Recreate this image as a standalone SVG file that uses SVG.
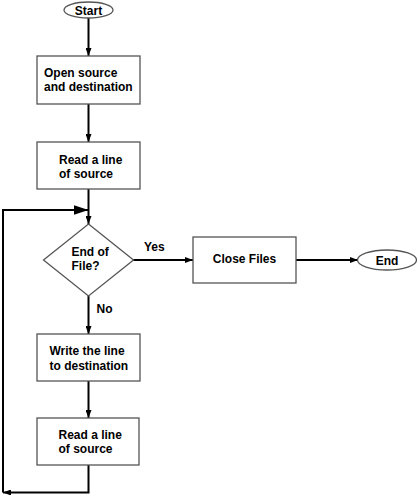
<svg xmlns="http://www.w3.org/2000/svg" width="417" height="495" viewBox="0 0 417 495">
<style>
.box{fill:#fff;stroke:#555;stroke-width:1.3}
.ln{fill:none;stroke:#000;stroke-width:2}
text{font-family:"Liberation Sans",Arial,sans-serif;font-weight:bold;font-size:12px;fill:#000}
</style>
<defs>
<marker id="ah" markerWidth="8" markerHeight="6" refX="8" refY="3" orient="auto" markerUnits="userSpaceOnUse">
<path d="M0,0 L8,3 L0,6 Z" fill="#000"/>
</marker>
<marker id="big" markerWidth="15" markerHeight="10" refX="15" refY="5" orient="auto" markerUnits="userSpaceOnUse">
<path d="M0,0 L15,5 L0,10 Z" fill="#000"/>
</marker>
</defs>
<g id="connectors">
<line class="ln" x1="88.5" y1="18" x2="88.5" y2="56" marker-end="url(#ah)"/>
<line class="ln" x1="88.5" y1="104" x2="88.5" y2="142" marker-end="url(#ah)"/>
<line class="ln" x1="88.5" y1="189" x2="88.5" y2="224" marker-end="url(#ah)"/>
<line class="ln" x1="133" y1="260" x2="193" y2="260" marker-end="url(#ah)"/>
<line class="ln" x1="296" y1="260" x2="358" y2="260" marker-end="url(#ah)"/>
<line class="ln" x1="88.5" y1="296" x2="88.5" y2="334" marker-end="url(#ah)"/>
<line class="ln" x1="88.5" y1="381" x2="88.5" y2="418" marker-end="url(#ah)"/>
<polyline class="ln" points="88.5,465 88.5,492.5 3,492.5" marker-end="url(#ah)"/>
<polyline class="ln" points="3,492.5 3,210 88.5,210" marker-end="url(#big)"/>
<text x="144" y="251">Yes</text>
<text x="96.5" y="313">No</text>
</g>
<g id="start">
<ellipse class="box" cx="88.5" cy="10" rx="24.5" ry="8"/>
<text x="88.5" y="14.5" text-anchor="middle">Start</text>
</g>
<g id="open">
<rect class="box" x="37" y="56" width="103" height="48"/>
<text x="44" y="77">Open source</text>
<text x="44" y="91">and destination</text>
</g>
<g id="read1">
<rect class="box" x="37" y="142" width="103" height="47"/>
<text x="59" y="163.5">Read a line</text>
<text x="59" y="177.5">of source</text>
</g>
<g id="eof">
<polygon class="box" points="88.5,224 133.5,260 88.5,296 43.5,260"/>
<text x="71.5" y="256">End of</text>
<text x="71.5" y="270">File?</text>
</g>
<g id="close">
<rect class="box" x="193" y="237" width="103" height="46"/>
<text x="244.5" y="262.5" text-anchor="middle">Close Files</text>
</g>
<g id="end">
<ellipse class="box" cx="387" cy="260" rx="29.5" ry="10"/>
<text x="387" y="264.5" text-anchor="middle">End</text>
</g>
<g id="write">
<rect class="box" x="37" y="334" width="103" height="47"/>
<text x="49.5" y="355">Write the line</text>
<text x="49.5" y="369.5">to destination</text>
</g>
<g id="read2">
<rect class="box" x="37" y="418" width="102" height="47"/>
<text x="58.5" y="439">Read a line</text>
<text x="58.5" y="453">of source</text>
</g>
</svg>
